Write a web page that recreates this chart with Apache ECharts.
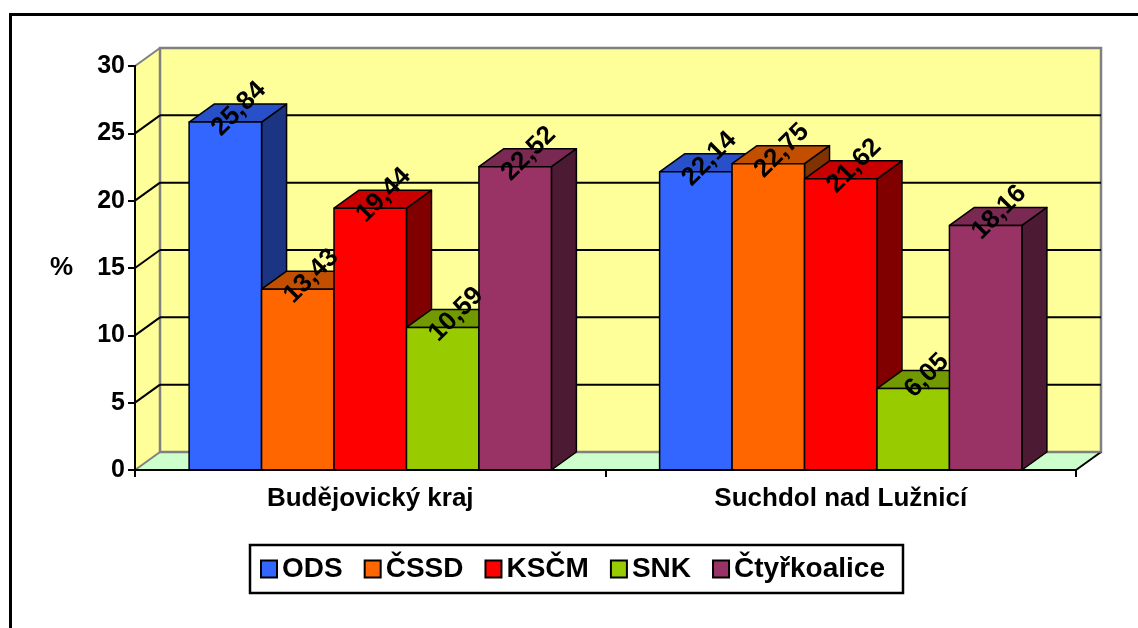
<!DOCTYPE html>
<html>
<head>
<meta charset="utf-8">
<script src="https://cdn.jsdelivr.net/npm/echarts@6/dist/echarts.min.js"></script>
<style>
html,body{margin:0;padding:0;background:#fff;}
#chart{width:1138px;height:628px;}
</style>
</head>
<body>
<div id="chart"></div>
<script>
// ---- data ----
const categories = ['Budějovický kraj', 'Suchdol nad Lužnicí'];
const partyNames = ['ODS', 'ČSSD', 'KSČM', 'SNK', 'Čtyřkoalice'];
const valuesODS = [25.84, 22.14];
const valuesCSSD = [13.43, 22.75];
const valuesKSCM = [19.44, 21.62];
const valuesSNK = [10.59, 6.05];
const valuesCtyrkoalice = [22.52, 18.16];
const yTicks = [0, 5, 10, 15, 20, 25, 30];

// ---- styles ----
const FONT = "'Liberation Sans', Arial, sans-serif";
const frontColors = ['#3366FF', '#FF6600', '#FF0000', '#99CC00', '#993366'];
const topColors   = ['#2850C8', '#C24E00', '#C80000', '#739900', '#7A2952'];
const sideColors  = ['#1C3582', '#803300', '#800000', '#4D6600', '#4D1A33'];
const DX = 25, DY = 18;          // 3D depth offset in px
const SIDE_FRAC = 0.115;          // empty part of band on each side
const allValues = [valuesODS, valuesCSSD, valuesKSCM, valuesSNK, valuesCtyrkoalice];

function bandInfo(api) {
  const bw = api.size([1, 0])[0];
  const c0 = api.coord([0, 0]);
  return { bw: bw, left: c0[0] - bw / 2, right: c0[0] - bw / 2 + bw * categories.length, y0: c0[1] };
}

function barGeom(api, idx) {
  const cat = api.value(0), val = api.value(1);
  const base = api.coord([cat, 0]);
  const top = api.coord([cat, val]);
  const bw = api.size([1, 0])[0];
  const barW = bw * (1 - 2 * SIDE_FRAC) / partyNames.length;
  const x0 = base[0] - bw / 2 + bw * SIDE_FRAC + idx * barW;
  return { x0: x0, w: barW, yb: base[1], yt: top[1] };
}

const series = [];

// walls + floor
series.push({
  type: 'custom', name: 'walls', z: 0, silent: true,
  coordinateSystem: 'cartesian2d',
  data: [[0, 0]],
  renderItem: function (params, api) {
    const b = bandInfo(api);
    const yTop = api.coord([0, yTicks[yTicks.length - 1]])[1];
    const y0 = b.y0;
    return {
      type: 'group',
      children: [
        { type: 'polygon', shape: { points: [[b.left, y0], [b.left + DX, y0 - DY], [b.left + DX, yTop - DY], [b.left, yTop]] },
          style: { fill: '#FFFF99', stroke: null } },
        { type: 'polygon', shape: { points: [[b.left, y0], [b.right, y0], [b.right + DX, y0 - DY], [b.left + DX, y0 - DY]] },
          style: { fill: '#CCFFCC', stroke: null } },
        { type: 'rect', shape: { x: b.left + DX, y: yTop - DY, width: b.right - b.left, height: y0 - yTop } ,
          style: { fill: '#FFFF99', stroke: '#808080', lineWidth: 2.5 } },
        { type: 'line', shape: { x1: b.right, y1: y0, x2: b.right + DX, y2: y0 - DY },
          style: { stroke: '#000', lineWidth: 2 } }
      ]
    };
  }
});

// gridlines on back wall and side wall
series.push({
  type: 'custom', name: 'grid', z: 1, silent: true,
  coordinateSystem: 'cartesian2d',
  data: yTicks.map(function (t) { return [0, t]; }),
  renderItem: function (params, api) {
    const b = bandInfo(api);
    const v = api.value(1);
    const y = api.coord([0, v])[1];
    const isEdge = (v === yTicks[0] || v === yTicks[yTicks.length - 1]);
    const col = isEdge ? '#808080' : '#000';
    const children = [
      { type: 'line', shape: { x1: b.left, y1: y, x2: b.left + DX, y2: y - DY }, style: { stroke: col, lineWidth: 2 } }
    ];
    if (!isEdge) {
      children.push({ type: 'line', shape: { x1: b.left + DX, y1: y - DY, x2: b.right + DX, y2: y - DY }, style: { stroke: '#000', lineWidth: 2 } });
    } else if (v === yTicks[0]) {
      children.push({ type: 'line', shape: { x1: b.left + DX, y1: y - DY, x2: b.right + DX, y2: y - DY }, style: { stroke: '#808080', lineWidth: 1.5 } });
    }
    return { type: 'group', children: children };
  }
});

// 3D bars
partyNames.forEach(function (name, i) {
  series.push({
    type: 'custom', name: name, z: 3 + i,
    coordinateSystem: 'cartesian2d',
    itemStyle: { color: frontColors[i], borderColor: '#000', borderWidth: 1.5 },
    data: allValues[i].map(function (v, c) { return [c, v]; }),
    renderItem: function (params, api) {
      const g = barGeom(api, i);
      const s = { stroke: '#000', lineWidth: 1.5, lineJoin: 'round' };
      return {
        type: 'group',
        children: [
          { type: 'polygon', shape: { points: [[g.x0 + g.w, g.yt], [g.x0 + g.w + DX, g.yt - DY], [g.x0 + g.w + DX, g.yb - DY], [g.x0 + g.w, g.yb]] },
            style: Object.assign({ fill: sideColors[i] }, s) },
          { type: 'polygon', shape: { points: [[g.x0, g.yt], [g.x0 + DX, g.yt - DY], [g.x0 + g.w + DX, g.yt - DY], [g.x0 + g.w, g.yt]] },
            style: Object.assign({ fill: topColors[i] }, s) },
          { type: 'rect', shape: { x: g.x0, y: g.yt, width: g.w, height: g.yb - g.yt },
            style: Object.assign({ fill: frontColors[i] }, s) }
        ]
      };
    }
  });
});

// value labels
partyNames.forEach(function (name, i) {
  series.push({
    type: 'custom', name: name + ' label', z: 20, silent: true,
    coordinateSystem: 'cartesian2d',
    data: allValues[i].map(function (v, c) { return [c, v]; }),
    renderItem: function (params, api) {
      const g = barGeom(api, i);
      const txt = api.value(1).toFixed(2).replace('.', ',');
      return {
        type: 'text',
        x: g.x0 + g.w / 2 + DX / 2 + 1,
        y: g.yt - DY / 2 - 4,
        rotation: Math.PI / 4,
        style: { text: txt, fill: '#000', font: 'bold 26px ' + FONT, align: 'center', verticalAlign: 'middle' }
      };
    }
  });
});

const option = {
  animation: false,
  backgroundColor: '#fff',
  graphic: [{
    type: 'rect', shape: { x: 10.5, y: 14.5, width: 1140, height: 640 },
    style: { fill: null, stroke: '#000', lineWidth: 3 }, z: 100, silent: true
  }],
  grid: { left: 135, right: 62, top: 66, bottom: 158 },
  legend: {
    data: partyNames,
    left: 250, top: 545,
    padding: [9, 18, 9, 10],
    borderColor: '#000', borderWidth: 2.5,
    itemWidth: 16, itemHeight: 17, itemGap: 21,
    icon: 'rect',
    textStyle: { fontFamily: FONT, fontWeight: 'bold', fontSize: 28, color: '#000', lineHeight: 30 }
  },
  xAxis: {
    type: 'category', data: categories, z: 50,
    axisLine: { show: true, lineStyle: { color: '#000', width: 2 } },
    axisTick: { show: true, length: 7, lineStyle: { color: '#000', width: 2 } },
    axisLabel: { margin: 16, color: '#000', fontFamily: FONT, fontWeight: 'bold', fontSize: 26 },
    splitLine: { show: false }
  },
  yAxis: {
    type: 'value', min: yTicks[0], max: yTicks[yTicks.length - 1], interval: yTicks[1] - yTicks[0], z: 50,
    name: '%', nameLocation: 'middle', nameRotate: 0, nameGap: 62,
    nameTextStyle: { color: '#000', fontFamily: FONT, fontWeight: 'bold', fontSize: 26 },
    axisLine: { show: true, lineStyle: { color: '#000', width: 2 } },
    axisTick: { show: true, length: 7, lineStyle: { color: '#000', width: 2 } },
    axisLabel: { margin: 10, color: '#000', fontFamily: FONT, fontWeight: 'bold', fontSize: 25 },
    splitLine: { show: false }
  },
  series: series
};

const chart = echarts.init(document.getElementById('chart'), null, { renderer: 'canvas' });
chart.setOption(option);
</script>
</body>
</html>
